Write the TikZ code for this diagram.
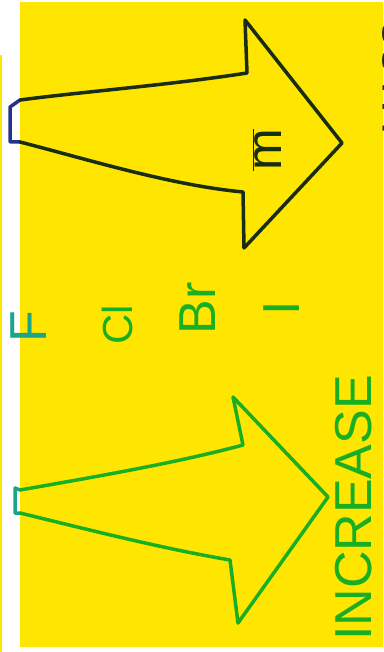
\documentclass[tikz,border=0pt]{standalone}
\usepackage{fontspec}
\setmainfont{Liberation Sans}
\definecolor{paper}{RGB}{255,230,0}
\definecolor{inkgreen}{RGB}{25,175,35}
\definecolor{inkdark}{RGB}{25,45,20}
\definecolor{inkblue}{RGB}{40,50,140}
\definecolor{inkteal}{RGB}{25,165,140}
\begin{document}
\begin{tikzpicture}[x=1pt,y=-1pt,
  marker/.style={line width=3.5pt,line cap=round,line join=round},
  elem/.style={rotate=90,inner sep=0pt,text=inkgreen,font=\fontsize{52}{52}\selectfont}]
\useasboundingbox (0,0) rectangle (383,652);
% sheet
\fill[white] (0,0) rectangle (383,652);
\fill[paper] (20,2) rectangle (383,647);
\fill[paper] (0,55) rectangle (1.5,652);
% upper arrow
\draw[marker,inkblue] (20,100) -- (10,107) -- (10,142) -- (20,142);
\draw[marker,inkdark] (20,142) .. controls (90,160) and (170,185) .. (243,192)
  -- (244,248) -- (342,143) -- (245,20) -- (247,73)
  .. controls (170,85) and (80,92) .. (20,100);
\node[elem,text=inkdark,font=\fontsize{50}{50}\selectfont] (mbar) at (267,150) {$\overline{\mbox{m}}$};
% lower arrow
\draw[marker,inkteal] (20,490) -- (15,488) -- (15,513) -- (20,513);
\draw[marker,inkgreen] (20,490) .. controls (100,476) and (180,462) .. (243,445)
  -- (233,397) -- (328,497) -- (238,623) -- (230,560)
  .. controls (160,548) and (90,530) .. (20,513);
\node[elem] (incr) at (354,508) {INCREASE};
% halogens
\node[elem,text=inkteal] (F) at (29,327) {F};
\node[elem,font=\fontsize{42}{42}\selectfont] (Cl) at (117,325) {Cl};
\node[elem] (Br) at (198,308) {Br};
\node[elem] (I) at (282,308) {I};
% cut-off note at the edge
\begin{scope}
\clip (20,0) rectangle (383,652);
\node[elem,text=inkdark,font=\fontsize{40}{40}\selectfont] (edge) at (397,78) {MASS};
\end{scope}
\end{tikzpicture}
\end{document}
